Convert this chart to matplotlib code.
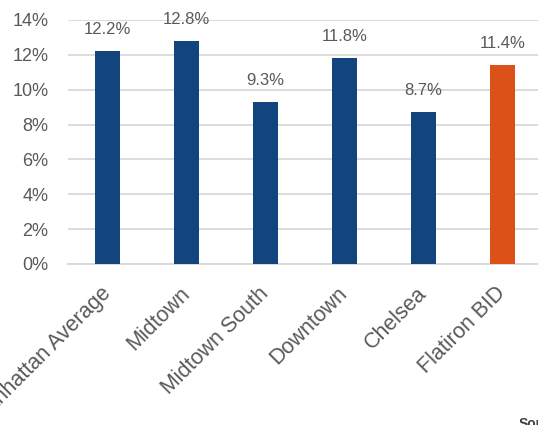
import numpy as np
import matplotlib.pyplot as plt

plt.rcParams['font.family'] = ['Liberation Sans', 'DejaVu Sans']

# Данные
areas = ['Manhattan Average', 'Midtown', 'Midtown South', 'Downtown', 'Chelsea', 'Flatiron BID']
values = [12.2, 12.8, 9.3, 11.8, 8.7, 11.4]
colors = ['#12457D', '#12457D', '#12457D', '#12457D', '#12457D', '#DC5118']

text_color = '#595959'

fig = plt.figure(figsize=(5.38, 4.25), dpi=100)
ax = fig.add_axes([68 / 538, (425 - 264) / 425, 474 / 538, 244 / 425])

x = np.arange(len(areas))
bars = ax.bar(x, values, width=0.32, color=colors, zorder=3)

for xi, v in zip(x, values):
    ax.annotate(f'{v:.1f}%', (xi, v), xytext=(0, 10), textcoords='offset points',
                ha='center', va='bottom', fontsize=12, color=text_color)

ax.set_xlim(-0.5, len(areas) - 0.5)
ax.set_ylim(0, 14)
ax.set_yticks(np.arange(0, 15, 2))
ax.set_yticklabels([f'{t}%' for t in range(0, 15, 2)])
ax.grid(axis='y', color='#D9D9D9', linewidth=1.3, zorder=0)

ax.set_xticks(x)
ax.set_xticklabels(areas, rotation=45, ha='right', va='center', rotation_mode='anchor')

for s in ['top', 'right', 'left']:
    ax.spines[s].set_visible(False)
ax.spines['bottom'].set_color('#D9D9D9')
ax.spines['bottom'].set_linewidth(1.3)

ax.tick_params(axis='y', length=0, pad=14, labelsize=13, labelcolor=text_color)
ax.tick_params(axis='x', length=0, pad=19, labelsize=15.5, labelcolor=text_color)

fig.text(519 / 538, -0.014, 'Source', fontsize=10, fontweight='bold', color='#404040',
         ha='left', va='bottom')

plt.savefig('out.png', dpi=100)
